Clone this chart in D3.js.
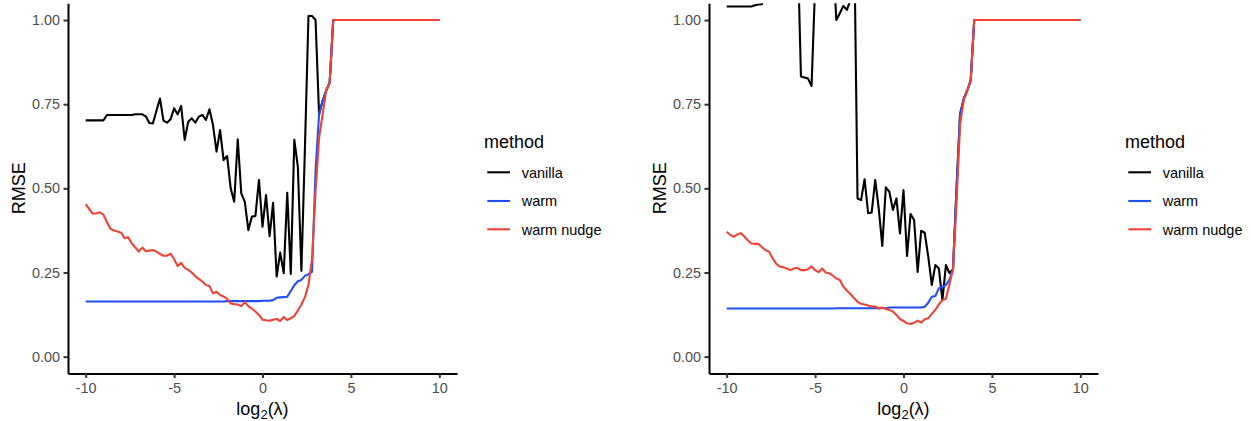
<!DOCTYPE html>
<html>
<head>
<meta charset="utf-8">
<script src="https://cdn.jsdelivr.net/npm/d3@7"></script>
<style>
  html, body { margin: 0; padding: 0; background: #fff; }
  svg { display: block; }
  text { font-family: "Liberation Sans", Arial, Helvetica, sans-serif; }
</style>
</head>
<body>
<svg id="chart" width="1251" height="421"></svg>
<script>
// ---------------- DATA ----------------
const log2Lambda = [
  -10,-9.8,-9.6,-9.4,-9.2,-9,-8.8,-8.6,-8.4,-8.2,-8,-7.8,-7.6,-7.4,-7.2,-7,-6.8,-6.6,-6.4,-6.2,
  -6,-5.8,-5.6,-5.4,-5.2,-5,-4.8,-4.6,-4.4,-4.2,-4,-3.8,-3.6,-3.4,-3.2,-3,-2.8,-2.6,-2.4,-2.2,
  -2,-1.8,-1.6,-1.4,-1.2,-1,-0.8,-0.6,-0.4,-0.2,0,0.2,0.4,0.6,0.8,1,1.2,1.4,1.6,1.8,
  2,2.2,2.4,2.6,2.8,3,3.2,3.4,3.6,3.8,4,4.2,4.4,4.6,4.8,5,5.2,5.4,5.6,5.8,
  6,6.2,6.4,6.6,6.8,7,7.2,7.4,7.6,7.8,8,8.2,8.4,8.6,8.8,9,9.2,9.4,9.6,9.8,10
];
const methods = ["vanilla", "warm", "warm nudge"];
const methodColors = ["#000000", "#1F4EF2", "#EE4336"];
const yTicks = [0, 0.25, 0.5, 0.75, 1];
const xTicks = [-10, -5, 0, 5, 10];

// Left panel
const leftVanilla = [
  0.702,0.702,0.702,0.702,0.702,0.702,0.718,0.718,0.718,0.718,0.718,0.718,0.718,0.718,0.72,0.72,0.72,0.714,0.694,0.693,
  0.73,0.767,0.701,0.695,0.705,0.738,0.72,0.745,0.644,0.698,0.708,0.695,0.713,0.718,0.703,0.735,0.688,0.609,0.673,0.584,
  0.596,0.50,0.46,0.646,0.485,0.46,0.376,0.416,0.418,0.525,0.386,0.48,0.358,0.457,0.238,0.309,0.248,0.487,0.246,0.644,
  0.564,0.255,0.62,1.012,1.012,1.0,0.72,0.76,0.79,0.815,1,1,1,1,1,1,1,1,1,1,
  1,1,1,1,1,1,1,1,1,1,1,1,1,1,1,1,1,1,1,1,1
];
const leftWarm = [
  0.164,0.164,0.164,0.164,0.164,0.164,0.164,0.164,0.164,0.164,0.164,0.164,0.164,0.164,0.164,0.164,0.164,0.164,0.164,0.164,
  0.164,0.164,0.164,0.164,0.164,0.164,0.164,0.164,0.164,0.164,0.164,0.164,0.164,0.164,0.164,0.164,0.164,0.164,0.164,0.164,
  0.165,0.165,0.165,0.165,0.165,0.165,0.165,0.165,0.165,0.165,0.166,0.166,0.166,0.168,0.175,0.176,0.177,0.178,0.195,0.212,
  0.224,0.228,0.24,0.245,0.252,0.55,0.72,0.76,0.79,0.815,1,1,1,1,1,1,1,1,1,1,
  1,1,1,1,1,1,1,1,1,1,1,1,1,1,1,1,1,1,1,1,1
];
const leftWarmNudge = [
  0.453,0.438,0.425,0.426,0.429,0.422,0.40,0.38,0.375,0.372,0.368,0.352,0.355,0.337,0.325,0.312,0.324,0.313,0.315,0.317,
  0.312,0.305,0.30,0.30,0.306,0.29,0.269,0.279,0.264,0.258,0.25,0.239,0.231,0.223,0.213,0.21,0.188,0.193,0.183,0.179,
  0.172,0.158,0.156,0.155,0.15,0.162,0.15,0.143,0.134,0.124,0.11,0.108,0.107,0.11,0.112,0.106,0.118,0.109,0.114,0.121,
  0.137,0.155,0.177,0.213,0.29,0.49,0.65,0.72,0.79,0.815,1,1,1,1,1,1,1,1,1,1,
  1,1,1,1,1,1,1,1,1,1,1,1,1,1,1,1,1,1,1,1,1
];

// Right panel
const rightVanilla = [
  1.04,1.04,1.04,1.04,1.04,1.04,1.04,1.04,1.044,1.046,1.047,1.2,1.25,1.25,1.25,1.25,1.25,1.25,1.25,1.25,
  1.25,0.832,0.829,0.826,0.804,1.1,1.2,1.2,1.2,1.2,1.2,1.0,1.02,1.042,1.03,1.06,1.3,0.47,0.465,0.527,
  0.426,0.428,0.525,0.44,0.329,0.503,0.49,0.436,0.47,0.366,0.495,0.299,0.424,0.406,0.252,0.374,0.368,0.297,0.213,0.272,
  0.262,0.168,0.272,0.248,0.26,0.5,0.72,0.765,0.79,0.82,1,1,1,1,1,1,1,1,1,1,
  1,1,1,1,1,1,1,1,1,1,1,1,1,1,1,1,1,1,1,1,1
];
const rightWarm = [
  0.143,0.143,0.143,0.143,0.143,0.143,0.143,0.143,0.143,0.143,0.143,0.143,0.143,0.143,0.143,0.143,0.143,0.143,0.143,0.143,
  0.143,0.143,0.143,0.143,0.143,0.143,0.143,0.143,0.143,0.143,0.143,0.144,0.144,0.144,0.144,0.144,0.144,0.144,0.144,0.144,
  0.144,0.144,0.144,0.144,0.144,0.144,0.146,0.146,0.146,0.146,0.146,0.146,0.146,0.146,0.146,0.146,0.148,0.16,0.178,0.18,
  0.203,0.207,0.213,0.228,0.26,0.5,0.72,0.765,0.79,0.82,1,1,1,1,1,1,1,1,1,1,
  1,1,1,1,1,1,1,1,1,1,1,1,1,1,1,1,1,1,1,1,1
];
const rightWarmNudge = [
  0.371,0.362,0.356,0.363,0.367,0.357,0.345,0.336,0.335,0.335,0.325,0.316,0.312,0.292,0.276,0.268,0.266,0.262,0.257,0.262,
  0.264,0.257,0.257,0.26,0.268,0.257,0.251,0.262,0.25,0.248,0.241,0.232,0.228,0.208,0.196,0.186,0.174,0.163,0.157,0.155,
  0.152,0.149,0.149,0.143,0.146,0.142,0.139,0.134,0.124,0.112,0.106,0.099,0.097,0.101,0.107,0.101,0.111,0.114,0.127,0.139,
  0.155,0.168,0.172,0.215,0.26,0.46,0.69,0.76,0.79,0.818,1,1,1,1,1,1,1,1,1,1,
  1,1,1,1,1,1,1,1,1,1,1,1,1,1,1,1,1,1,1,1,1
];

// ---------------- DRAWING ----------------
const svg = d3.select("#chart");
const panelW = 389, plotTop = 3.2, plotBottom = 373.5;

function drawPanel(left, series, idx) {
  const x = d3.scaleLinear().domain([-11, 11]).range([left, left + panelW]);
  const y = d3.scaleLinear().domain([-0.05, 1.05]).range([plotBottom, plotTop]);
  const g = svg.append("g");

  const clipId = "clip" + idx;
  svg.append("defs").append("clipPath").attr("id", clipId)
    .append("rect").attr("x", left).attr("y", plotTop).attr("width", panelW).attr("height", plotBottom - plotTop);

  const line = d3.line().x((d, i) => x(log2Lambda[i])).y(d => y(d));
  const lines = g.append("g").attr("clip-path", `url(#${clipId})`);
  series.forEach((s, k) => {
    lines.append("path").datum(s)
      .attr("d", line)
      .attr("fill", "none")
      .attr("stroke", methodColors[k])
      .attr("stroke-width", 2.1)
      .attr("stroke-linejoin", "round");
  });

  // axes
  const ya = g.append("g").attr("transform", `translate(${left},0)`)
    .call(d3.axisLeft(y).tickValues(yTicks).tickFormat(d3.format(".2f")).tickSize(4.5).tickPadding(3.6).tickSizeOuter(0));
  const xa = g.append("g").attr("transform", `translate(0,${plotBottom})`)
    .call(d3.axisBottom(x).tickValues(xTicks).tickFormat(d3.format("d")).tickSize(4.5).tickPadding(5).tickSizeOuter(0));
  [ya, xa].forEach(a => {
    a.select(".domain").attr("stroke", "#000").attr("stroke-width", 2);
    a.selectAll(".tick line").attr("stroke", "#333").attr("stroke-width", 2);
    a.selectAll(".tick text").attr("fill", "#4D4D4D").style("font-size", "14.4px")
      .style("font-family", '"Liberation Sans", Arial, sans-serif');
  });
  xa.selectAll(".tick text").text(d => d < 0 ? "-" + Math.abs(d) : d);

  // axis titles
  g.append("text")
    .attr("transform", `translate(${left - 43},${(plotTop + plotBottom) / 2}) rotate(-90)`)
    .attr("text-anchor", "middle").style("font-size", "18px").attr("fill", "#000")
    .text("RMSE");
  const xt = g.append("text")
    .attr("x", left + panelW / 2).attr("y", 415)
    .attr("text-anchor", "middle").style("font-size", "18px").attr("fill", "#000");
  xt.append("tspan").text("log");
  xt.append("tspan").attr("dy", 4).style("font-size", "13px").text("2");
  xt.append("tspan").attr("dy", -4).text("(λ)");

  // legend
  const lx = left + 416;
  const lg = g.append("g");
  lg.append("text").attr("x", lx).attr("y", 148).style("font-size", "18px").attr("fill", "#000").text("method");
  const keyY = [172.3, 201, 229.3];
  methods.forEach((m, k) => {
    lg.append("line").attr("x1", lx + 3.3).attr("x2", lx + 26).attr("y1", keyY[k]).attr("y2", keyY[k])
      .attr("stroke", methodColors[k]).attr("stroke-width", 2.1);
    lg.append("text").attr("x", lx + 37.7).attr("y", keyY[k] + 5.3)
      .style("font-size", "14.5px").attr("fill", "#000").text(m);
  });
}

drawPanel(68, [leftVanilla, leftWarm, leftWarmNudge], 0);
drawPanel(709, [rightVanilla, rightWarm, rightWarmNudge], 1);
</script>
</body>
</html>
